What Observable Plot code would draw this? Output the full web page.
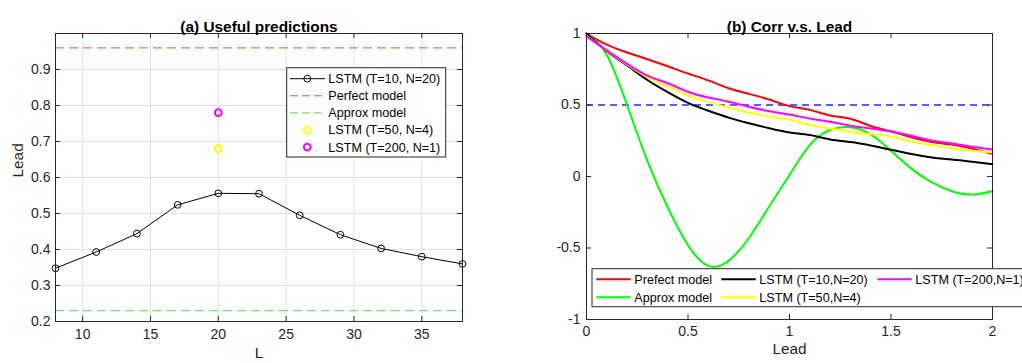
<!DOCTYPE html>
<html><head><meta charset="utf-8">
<script src="https://cdn.jsdelivr.net/npm/d3@7"></script>
<script src="https://cdn.jsdelivr.net/npm/@observablehq/plot@0.6"></script>
<style>
body{margin:0;background:#fff;}
#wrap{position:relative;width:1022px;height:363px;overflow:hidden;background:#fff}
#a,#b{position:absolute;top:0}
#a{left:0}
#b{left:511px}
</style></head><body><div id="wrap"><div id="a"></div><div id="b"></div></div>
<script>
// ---------- data: panel (a) ----------
const L = [8, 11, 14, 17, 20, 23, 26, 29, 32, 35, 38];
const leadLSTM_T10N20 = [0.348, 0.393, 0.444, 0.524, 0.556, 0.555, 0.495, 0.441, 0.403, 0.380, 0.360];
const L_single = [20];
const leadLSTM_T50N4 = [0.68];
const leadLSTM_T200N1 = [0.78];
const leadPerfect = [0.96];
const leadApprox = [0.23];
const namesA = ["LSTM (T=10, N=20)", "Perfect model", "Approx model", "LSTM (T=50, N=4)", "LSTM (T=200, N=1)"];
const xTicksA = [10, 15, 20, 25, 30, 35];
const yTicksA = [0.2, 0.3, 0.4, 0.5, 0.6, 0.7, 0.8, 0.9];

// ---------- data: panel (b) ----------
const lead = [0, 0.1, 0.2, 0.3, 0.4, 0.5, 0.6, 0.7, 0.8, 0.9, 1.0, 1.1, 1.2, 1.3, 1.4, 1.5, 1.6, 1.7, 1.8, 1.9, 2.0];
const corrPerfect = [1.0, 0.922, 0.867, 0.82, 0.771, 0.72, 0.672, 0.617, 0.578, 0.538, 0.492, 0.466, 0.427, 0.404, 0.353, 0.316, 0.274, 0.242, 0.223, 0.195, 0.157];
const corrApprox = [1.0, 0.85, 0.5, 0.11, -0.215, -0.48, -0.625, -0.59, -0.43, -0.21, 0.01, 0.22, 0.325, 0.345, 0.295, 0.18, 0.055, -0.04, -0.103, -0.126, -0.103];
const corrT10N20 = [1.0, 0.876, 0.776, 0.675, 0.59, 0.515, 0.46, 0.412, 0.372, 0.337, 0.308, 0.29, 0.259, 0.241, 0.217, 0.187, 0.157, 0.133, 0.119, 0.103, 0.086];
const corrT50N4 = [0.985, 0.88, 0.782, 0.695, 0.63, 0.568, 0.52, 0.482, 0.447, 0.42, 0.396, 0.362, 0.336, 0.311, 0.297, 0.28, 0.245, 0.22, 0.196, 0.18, 0.168];
const corrT200N1 = [0.98, 0.882, 0.787, 0.705, 0.652, 0.593, 0.553, 0.523, 0.488, 0.457, 0.433, 0.406, 0.383, 0.355, 0.336, 0.315, 0.285, 0.252, 0.231, 0.208, 0.189];
const namesB = ["Prefect model", "Approx model", "LSTM (T=10,N=20)", "LSTM (T=50,N=4)", "LSTM (T=200,N=1)"];
const colorsB = ["#ff0000", "#00ff00", "#000000", "#ffff00", "#ff00ff"];
const refCorr = [0.5];
const xTicksB = [0, 0.5, 1, 1.5, 2];
const yTicksB = [-1, -0.5, 0, 0.5, 1];

const FONT = "'Liberation Sans', Arial, Helvetica, sans-serif";
const INK = "#262626";
const W = 511, H = 363;

// ---------- panel (a) ----------
{
  const ml = 55, mr = 49, mt = 33, mb = 42;
  const fw = W - ml - mr, fh = H - mt - mb;
  const rows = L.map((l, i) => ({L: l, lead: leadLSTM_T10N20[i]}));
  const singles = [
    {L: L_single[0], lead: leadLSTM_T50N4[0], c: "#ffff00"},
    {L: L_single[0], lead: leadLSTM_T200N1[0], c: "#ff00ff"}
  ];
  const svg = Plot.plot({
    width: W, height: H, marginLeft: ml, marginRight: mr, marginTop: mt, marginBottom: mb,
    style: {fontFamily: FONT, fontSize: "14px", color: INK, background: "#fff"},
    x: {domain: [8, 38]},
    y: {domain: [0.2, 1.0]},
    marks: [
      Plot.gridX(xTicksA, {stroke: "#e0e0e0", strokeOpacity: 1}),
      Plot.gridY(yTicksA.concat([1.0]), {stroke: "#e0e0e0", strokeOpacity: 1}),
      Plot.ruleY(leadPerfect, {stroke: "#f04848", strokeDasharray: "9,5"}),
      Plot.ruleY(leadApprox, {stroke: "#4be04b", strokeDasharray: "9,5"}),
      Plot.line(rows, {x: "L", y: "lead", stroke: "#000", strokeWidth: 1}),
      Plot.dot(rows, {x: "L", y: "lead", r: 3.4, stroke: "#000", fill: "none", strokeWidth: 1}),
      Plot.dot(singles, {x: "L", y: "lead", r: 3.4, stroke: "c", fill: "none", strokeWidth: 2}),
      Plot.tickY(yTicksA, {y: d => d, insetRight: fw - 5, stroke: INK}),
      Plot.tickY(yTicksA, {y: d => d, insetLeft: fw - 5, stroke: INK}),
      Plot.tickX(xTicksA, {x: d => d, insetTop: fh - 5, stroke: INK}),
      Plot.tickX(xTicksA, {x: d => d, insetBottom: fh - 5, stroke: INK}),
      Plot.frame({stroke: INK, strokeWidth: 1}),
      Plot.axisX(xTicksA, {tickSize: 0, tickPadding: 8, fontSize: 14, label: null}),
      Plot.axisY(yTicksA, {tickSize: 0, tickPadding: 5, fontSize: 14, label: null}),
      Plot.text(["(a) Useful predictions"], {frameAnchor: "top", dy: -12, fontWeight: "bold", fontSize: 15.4, fill: "#000"}),
      Plot.text(["L"], {frameAnchor: "bottom", dy: 36, fontSize: 15.4, fill: INK}),
      Plot.text(["Lead"], {frameAnchor: "left", dx: -37, rotate: -90, fontSize: 15.4, fill: INK})
    ]
  });
  // legend
  const g = d3.select(svg).append("g").attr("font-family", FONT).attr("font-size", 12.6)
    .attr("fill", "#000").attr("text-anchor", "start");
  const bw = 159, bh = 89.3;
  const bx = ml + fw - 16.3 - bw, by = mt + 34.7;
  g.append("rect").attr("x", bx).attr("y", by).attr("width", bw).attr("height", bh)
    .attr("fill", "#fff").attr("stroke", INK).attr("stroke-width", 1);
  const styles = [
    {line: "#000", dash: null, dot: "#000", dw: 1},
    {line: "#f04848", dash: "8,4", dot: null},
    {line: "#4be04b", dash: "8,4", dot: null},
    {line: null, dot: "#ffff00", dw: 2},
    {line: null, dot: "#ff00ff", dw: 2}
  ];
  namesA.forEach((name, i) => {
    const y = by + 11 + i * 17.1;
    const s = styles[i];
    if (s.line) g.append("line").attr("x1", bx + 3.3).attr("x2", bx + 38.3).attr("y1", y).attr("y2", y)
      .attr("stroke", s.line).attr("stroke-width", 1).attr("stroke-dasharray", s.dash);
    if (s.dot) g.append("circle").attr("cx", bx + 20.6).attr("cy", y).attr("r", 3.4)
      .attr("fill", "none").attr("stroke", s.dot).attr("stroke-width", s.dw);
    g.append("text").attr("x", bx + 41.6).attr("y", y).attr("dy", "0.35em").text(name);
  });
  document.getElementById("a").appendChild(svg);
}

// ---------- panel (b) ----------
{
  const ml = 75, mr = 30, mt = 33, mb = 44;
  const fw = W - ml - mr, fh = H - mt - mb;
  const series = [corrPerfect, corrApprox, corrT10N20, corrT50N4, corrT200N1];
  const rows = series.flatMap((vals, k) => lead.map((x, i) => ({lead: x, corr: vals[i], name: namesB[k]})));
  const svg = Plot.plot({
    width: W, height: H, marginLeft: ml, marginRight: mr, marginTop: mt, marginBottom: mb,
    style: {fontFamily: FONT, fontSize: "14px", color: INK, background: "#fff"},
    x: {domain: [0, 2]},
    y: {domain: [-1, 1]},
    color: {domain: namesB, range: colorsB},
    marks: [
      Plot.ruleY(refCorr, {stroke: "#5a5aff", strokeWidth: 2, strokeDasharray: "7,5"}),
      Plot.line(rows, {x: "lead", y: "corr", stroke: "name", z: "name", strokeWidth: 2, curve: "natural"}),
      Plot.tickY(yTicksB, {y: d => d, insetRight: fw - 5, stroke: INK}),
      Plot.tickY(yTicksB, {y: d => d, insetLeft: fw - 5, stroke: INK}),
      Plot.tickX(xTicksB, {x: d => d, insetTop: fh - 5, stroke: INK}),
      Plot.tickX(xTicksB, {x: d => d, insetBottom: fh - 5, stroke: INK}),
      Plot.frame({stroke: INK, strokeWidth: 1}),
      Plot.axisX(xTicksB, {tickSize: 0, tickPadding: 7, fontSize: 14, label: null, tickFormat: d => String(d)}),
      Plot.axisY(yTicksB, {tickSize: 0, tickPadding: 6, fontSize: 14, label: null, tickFormat: d => String(d)}),
      Plot.text(["(b) Corr v.s. Lead"], {frameAnchor: "top", dy: -12, fontWeight: "bold", fontSize: 15.4, fill: "#000"}),
      Plot.text(["Lead"], {frameAnchor: "bottom", dy: 34, fontSize: 15.4, fill: INK})
    ]
  });
  const g = d3.select(svg).append("g").attr("font-family", FONT).attr("font-size", 12.6)
    .attr("fill", "#000").attr("text-anchor", "start");
  const bx = 81, by = 268.7;
  g.append("rect").attr("x", bx).attr("y", by).attr("width", 480).attr("height", 38)
    .attr("fill", "#fff").attr("stroke", INK).attr("stroke-width", 1);
  const cols = [4.3, 129.3, 285.3];
  const rowsY = [10.6, 28.6];
  namesB.forEach((name, k) => {
    const c = Math.floor(k / 2), r = k % 2;
    const x0 = bx + cols[c], y = by + rowsY[r];
    g.append("line").attr("x1", x0).attr("x2", x0 + 34.4).attr("y1", y).attr("y2", y)
      .attr("stroke", colorsB[k]).attr("stroke-width", 2);
    g.append("text").attr("x", x0 + 38).attr("y", y).attr("dy", "0.35em").text(name);
  });
  document.getElementById("b").appendChild(svg);
}
</script>
</body></html>
